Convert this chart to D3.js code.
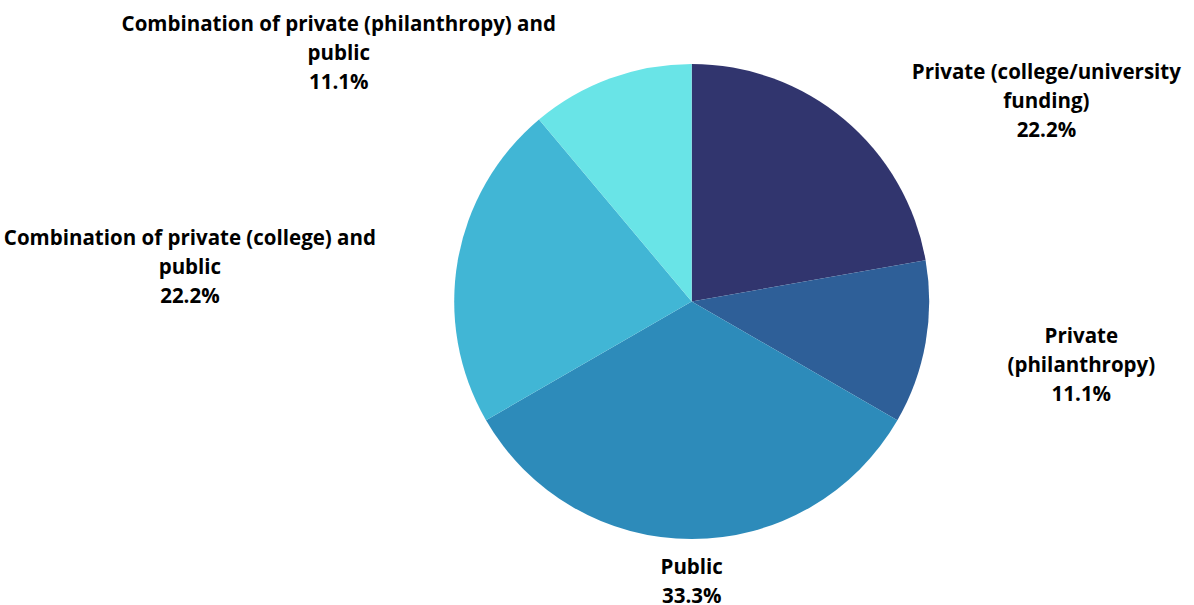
<!DOCTYPE html>
<html>
<head>
<meta charset="utf-8">
<script src="https://cdn.jsdelivr.net/npm/d3@7"></script>
<style>
  body { margin: 0; background: #fff; }
  svg text { font-family: "Open Sans", sans-serif; font-weight: 700; fill: #000; }
</style>
</head>
<body>
<svg id="pie"></svg>
<script>
// Funding sources (share of respondents)
const categories = [
    "Private (college/university funding)",
    "Private (philanthropy)",
    "Public",
    "Combination of private (college) and public",
    "Combination of private (philanthropy) and public"
];
const values = [2, 1, 3, 2, 1];
const percentLabels = ["22.2%", "11.1%", "33.3%", "22.2%", "11.1%"];
// how each label wraps in the picture
const labelLines = [
    ["Private (college/university", "funding)"],
    ["Private", "(philanthropy)"],
    ["Public"],
    ["Combination of private (college) and", "public"],
    ["Combination of private (philanthropy) and", "public"]
];
const colors = ["#31356e", "#2e5f98", "#2d8bba", "#41b6d5", "#69e4e7"];

const width = 1194, height = 605;
const cx = 691.7, cy = 301.5, radius = 237.5;
const labelRadius = 280, labelGap = 40, sideDy = 14;
const fontSize = 20.5, lineHeight = 29;

const svg = d3.select("#pie")
    .attr("width", width)
    .attr("height", height);

const g = svg.append("g")
    .attr("transform", `translate(${cx},${cy})`);

const data = categories.map((c, i) => ({ name: c, value: values[i], i }));

const pie = d3.pie()
    .value(d => d.value)
    .sort(null);

const arc = d3.arc()
    .innerRadius(0)
    .outerRadius(radius);

const arcs = pie(data);

g.selectAll(".slice")
    .data(arcs)
    .enter()
    .append("path")
    .attr("class", "slice")
    .attr("d", arc)
    .attr("fill", d => colors[d.data.i]);

// Labels sit outside the pie, near edge pushed off along the mid angle
const labels = g.selectAll(".label")
    .data(arcs)
    .enter()
    .append("text")
    .attr("class", "label")
    .style("font-size", fontSize + "px")
    .attr("text-anchor", "middle");

labels.each(function(d) {
    const t = d3.select(this);
    const lines = labelLines[d.data.i].concat([percentLabels[d.data.i]]);
    lines.forEach((line, k) => {
        t.append("tspan")
            .attr("x", 0)
            .attr("dy", k === 0 ? 0 : lineHeight)
            .text(line);
    });

    const mid = (d.startAngle + d.endAngle) / 2;
    const s = Math.sin(mid), c = -Math.cos(mid);
    const bx = s * labelRadius, by = c * labelRadius;
    const w = this.getBBox().width;
    const blockH = (lines.length - 1) * lineHeight;

    let x = bx, yCenter = by;
    if (s > 0.3) { x = bx + labelGap + w / 2; yCenter = by + sideDy; }
    else if (s < -0.3) { x = bx - labelGap - w / 2; yCenter = by + sideDy; }

    // first baseline so the block is centred on yCenter
    const y0 = yCenter - blockH / 2 + fontSize * 0.36;
    t.attr("transform", `translate(${x},${y0})`);
});
</script>
</body>
</html>
